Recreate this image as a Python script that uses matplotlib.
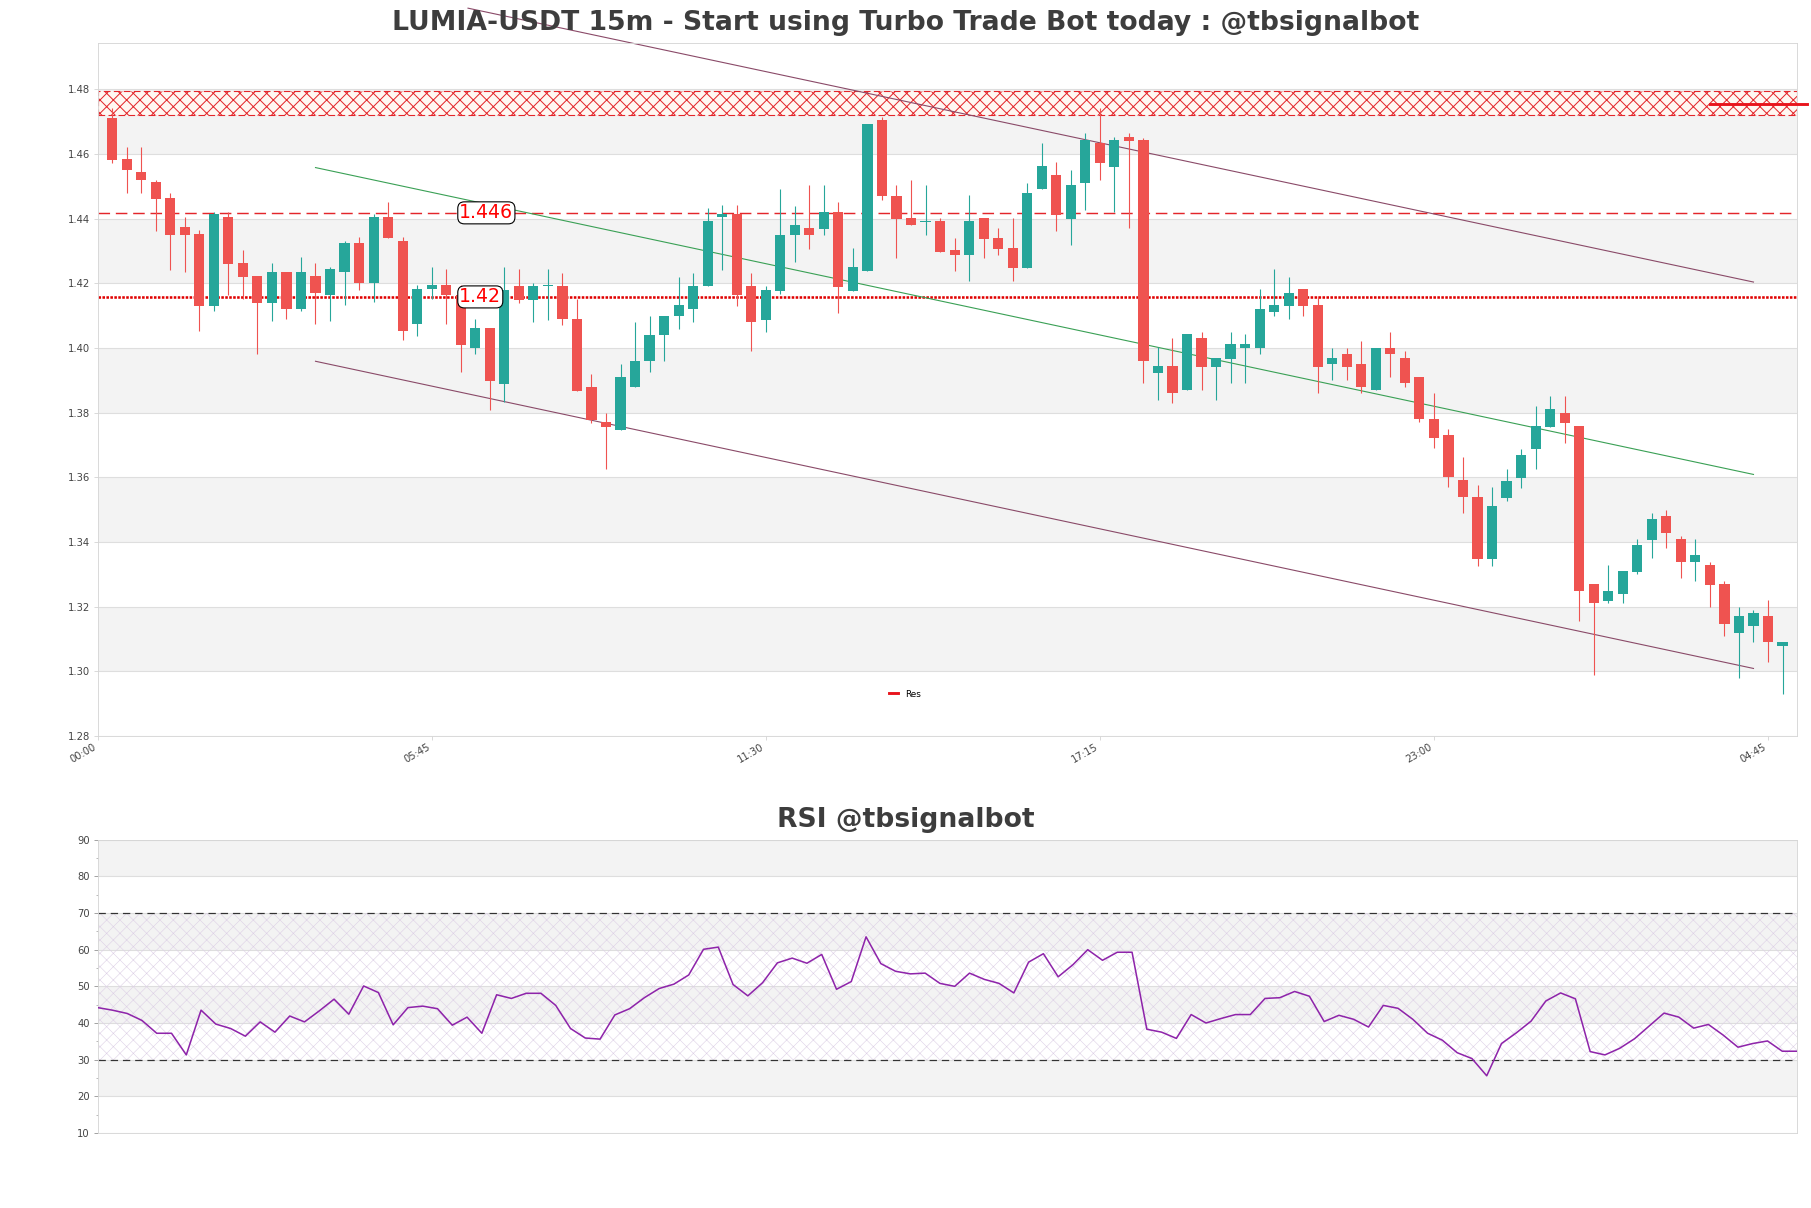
import matplotlib
matplotlib.use("Agg")
import matplotlib.pyplot as plt
import numpy as np

# ---------------- data ----------------
opens = [1.4712, 1.4583, 1.4543, 1.4512, 1.4463, 1.4373, 1.4352, 1.4131, 1.4404, 1.4263,
         1.4223, 1.4140, 1.4235, 1.4122, 1.4223, 1.4163, 1.4234, 1.4324, 1.4202, 1.4404,
         1.4332, 1.4073, 1.4181, 1.4194, 1.4165, 1.4000, 1.4063, 1.3889, 1.4193, 1.4150,
         1.4192, 1.4193, 1.4090, 1.3879, 1.3770, 1.3747, 1.3879, 1.3960, 1.4040, 1.4099,
         1.4120, 1.4193, 1.4404, 1.4415, 1.4193, 1.4088, 1.4177, 1.4348, 1.4371, 1.4369,
         1.4421, 1.4177, 1.4239, 1.4704, 1.4470, 1.4402, 1.4389, 1.4392, 1.4302, 1.4289,
         1.4402, 1.4340, 1.4310, 1.4248, 1.4491, 1.4534, 1.4400, 1.4509, 1.4633, 1.4559,
         1.4653, 1.4642, 1.3922, 1.3943, 1.3869, 1.4031, 1.3942, 1.3967, 1.4000, 1.4000,
         1.4112, 1.4130, 1.4181, 1.4132, 1.3952, 1.3983, 1.3952, 1.3869, 1.4000, 1.3970,
         1.3911, 1.3782, 1.3732, 1.3591, 1.3538, 1.3348, 1.3537, 1.3598, 1.3687, 1.3756,
         1.3798, 1.3758, 1.3270, 1.3219, 1.3238, 1.3308, 1.3407, 1.3481, 1.3409, 1.3339,
         1.3329, 1.3270, 1.3118, 1.3139, 1.3171, 1.3078]
highs = [1.4742, 1.4622, 1.4622, 1.4521, 1.4480, 1.4404, 1.4365, 1.4422, 1.4422, 1.4302,
         1.4223, 1.4263, 1.4235, 1.4283, 1.4263, 1.4252, 1.4332, 1.4343, 1.4413, 1.4452,
         1.4343, 1.4194, 1.4252, 1.4244, 1.4195, 1.4090, 1.4063, 1.4252, 1.4244, 1.4202,
         1.4244, 1.4233, 1.4152, 1.3920, 1.3799, 1.3951, 1.4081, 1.4100, 1.4100, 1.4221,
         1.4233, 1.4433, 1.4441, 1.4441, 1.4233, 1.4193, 1.4493, 1.4440, 1.4503, 1.4503,
         1.4452, 1.4309, 1.4692, 1.4714, 1.4503, 1.4521, 1.4503, 1.4402, 1.4340, 1.4472,
         1.4402, 1.4371, 1.4402, 1.4511, 1.4633, 1.4574, 1.4552, 1.4664, 1.4742, 1.4653,
         1.4664, 1.4651, 1.4004, 1.4031, 1.4042, 1.4050, 1.3969, 1.4050, 1.4042, 1.4181,
         1.4243, 1.4220, 1.4181, 1.4160, 1.4000, 1.4000, 1.4022, 1.4000, 1.4050, 1.3991,
         1.3911, 1.3861, 1.3751, 1.3663, 1.3577, 1.3569, 1.3627, 1.3689, 1.3821, 1.3851,
         1.3851, 1.3758, 1.3270, 1.3329, 1.3311, 1.3409, 1.3489, 1.3499, 1.3419, 1.3409,
         1.3339, 1.3278, 1.3198, 1.3190, 1.3221, 1.3090]
lows = [1.4572, 1.4479, 1.4479, 1.4362, 1.4242, 1.4234, 1.4052, 1.4114, 1.4165, 1.4153,
        1.3983, 1.4083, 1.4091, 1.4114, 1.4073, 1.4083, 1.4132, 1.4180, 1.4142, 1.4340,
        1.4025, 1.4037, 1.4153, 1.4073, 1.3927, 1.3980, 1.3809, 1.3832, 1.4140, 1.4080,
        1.4088, 1.4070, 1.3868, 1.3767, 1.3625, 1.3747, 1.3879, 1.3927, 1.3960, 1.4060,
        1.4080, 1.4193, 1.4241, 1.4130, 1.3991, 1.4050, 1.4167, 1.4267, 1.4307, 1.4348,
        1.4108, 1.4177, 1.4239, 1.4459, 1.4279, 1.4379, 1.4348, 1.4298, 1.4239, 1.4208,
        1.4279, 1.4289, 1.4208, 1.4248, 1.4491, 1.4361, 1.4319, 1.4428, 1.4519, 1.4421,
        1.4371, 1.3892, 1.3840, 1.3830, 1.3869, 1.3869, 1.3840, 1.3892, 1.3892, 1.3983,
        1.4100, 1.4089, 1.4100, 1.3861, 1.3900, 1.3900, 1.3861, 1.3869, 1.3911, 1.3880,
        1.3771, 1.3691, 1.3570, 1.3489, 1.3327, 1.3327, 1.3528, 1.3568, 1.3627, 1.3756,
        1.3707, 1.3157, 1.2988, 1.3211, 1.3211, 1.3301, 1.3350, 1.3380, 1.3288, 1.3279,
        1.3198, 1.3109, 1.2979, 1.3090, 1.3029, 1.2931]
closes = [1.4580, 1.4550, 1.4519, 1.4461, 1.4350, 1.4350, 1.4131, 1.4413, 1.4260, 1.4220,
          1.4140, 1.4235, 1.4122, 1.4235, 1.4171, 1.4244, 1.4324, 1.4202, 1.4404, 1.4340,
          1.4052, 1.4183, 1.4194, 1.4163, 1.4008, 1.4063, 1.3899, 1.4179, 1.4150, 1.4193,
          1.4194, 1.4089, 1.3868, 1.3777, 1.3756, 1.3910, 1.3960, 1.4041, 1.4100, 1.4132,
          1.4193, 1.4392, 1.4415, 1.4164, 1.4080, 1.4179, 1.4350, 1.4381, 1.4348, 1.4421,
          1.4190, 1.4250, 1.4692, 1.4469, 1.4400, 1.4379, 1.4391, 1.4298, 1.4289, 1.4392,
          1.4338, 1.4307, 1.4248, 1.4480, 1.4563, 1.4410, 1.4503, 1.4642, 1.4571, 1.4642,
          1.4640, 1.3960, 1.3943, 1.3861, 1.4042, 1.3942, 1.3969, 1.4011, 1.4011, 1.4122,
          1.4133, 1.4171, 1.4130, 1.3942, 1.3969, 1.3942, 1.3880, 1.4000, 1.3981, 1.3892,
          1.3782, 1.3722, 1.3600, 1.3539, 1.3348, 1.3511, 1.3588, 1.3668, 1.3758, 1.3810,
          1.3768, 1.3248, 1.3211, 1.3248, 1.3311, 1.3391, 1.3471, 1.3428, 1.3339, 1.3360,
          1.3267, 1.3147, 1.3171, 1.3180, 1.3090, 1.3090]

rsi = [44.2, 43.5, 42.6, 40.7, 37.2, 37.2, 31.3, 43.5, 39.7, 38.5,
       36.4, 40.3, 37.5, 41.9, 40.3, 43.3, 46.5, 42.4, 50.1, 48.3,
       39.5, 44.2, 44.6, 43.9, 39.4, 41.6, 37.2, 47.7, 46.7, 48.1,
       48.1, 44.8, 38.5, 35.9, 35.6, 42.2, 43.9, 46.9, 49.4, 50.6,
       53.1, 60.1, 60.7, 50.5, 47.4, 51.0, 56.4, 57.7, 56.3, 58.7,
       49.2, 51.3, 63.5, 56.2, 54.1, 53.4, 53.6, 50.8, 50.0, 53.6,
       51.9, 50.8, 48.2, 56.6, 58.9, 52.6, 55.9, 60.0, 57.1, 59.3,
       59.3, 38.3, 37.5, 35.8, 42.3, 40.0, 41.2, 42.3, 42.3, 46.7,
       46.9, 48.6, 47.3, 40.4, 42.1, 41.0, 38.9, 44.8, 44.0, 41.0,
       37.2, 35.3, 31.9, 30.3, 25.6, 34.4, 37.3, 40.5, 46.0, 48.2,
       46.6, 32.2, 31.3, 33.1, 35.7, 39.2, 42.7, 41.6, 38.6, 39.6,
       36.7, 33.4, 34.4, 35.1, 32.3, 32.3]

tick_pos = [-1, 22, 45, 68, 91, 114]
tick_labels = ["00:00", "05:45", "11:30", "17:15", "23:00", "04:45"]

upper_x = [24.5, 113]
channel_upper = [1.5051, 1.4204]
channel_x = [14, 113]
channel_mid = [1.4558, 1.3609]
channel_lower = [1.3959, 1.3009]

zone_low, zone_high = 1.4721, 1.4795
level_1 = 1.4418
level_1_text = "1.446"
level_2 = 1.4158
level_2_text = "1.42"
label_x = 23.9
res_x = [110, 116.7]
res_y = [1.4754, 1.4754]

title_main = "LUMIA-USDT 15m - Start using Turbo Trade Bot today : @tbsignalbot"
title_rsi = "RSI @tbsignalbot"

# ---------------- figure ----------------
DPI = 80
fig = plt.figure(figsize=(1811 / DPI, 1208 / DPI), dpi=DPI)
fig.patch.set_facecolor("white")
ax = fig.add_axes([0.0539, 0.3907, 0.9384, 0.5739])
rax = fig.add_axes([0.0539, 0.0621, 0.9384, 0.2428])

GREEN = "#26a69a"
RED = "#ef5350"
BAND = "#f3f3f3"
GRID = "#dedede"
SPINE = "#d6d6d6"
TXT = "#444444"

n = len(opens)
x = np.arange(n)
o = np.array(opens); h = np.array(highs); l = np.array(lows); c = np.array(closes)
up = c >= o
cols = np.where(up, GREEN, RED)

# price panel background bands and grid
yt = np.round(np.arange(1.28, 1.4801, 0.02), 2)
for i in range(len(yt) - 1):
    if i % 2 == 1:
        ax.axhspan(yt[i], yt[i + 1], color=BAND, zorder=0, lw=0)
for v in yt:
    ax.axhline(v, color=GRID, lw=1, zorder=0.5)

# resistance zone
plt.rcParams["hatch.linewidth"] = 0.9
ax.axhspan(zone_low, zone_high, facecolor="#fff7f2", edgecolor="#e3262b", hatch="xx",
           linestyle=(0, (6, 3)), lw=1.0, zorder=1)

# levels
ax.axhline(level_1, color="#e3262b", lw=1.3, ls=(0, (8, 4)), zorder=1.5)
ax.axhline(level_2, color="#e00000", lw=2.3, ls=(0, (1, 0.55)), zorder=1.5)

# channel
ax.plot(upper_x, channel_upper, color="#8a4a68", lw=1.0, zorder=2, clip_on=False)
ax.plot(channel_x, channel_mid, color="#3aa055", lw=1.0, zorder=2)
ax.plot(channel_x, channel_lower, color="#8a4a68", lw=1.0, zorder=2)

# candles
ax.vlines(x, l, h, colors=cols, lw=1.0, zorder=3)
body_bottom = np.minimum(o, c)
body_h = np.maximum(np.abs(c - o), 0.0003)
ax.bar(x, body_h, width=0.7, bottom=body_bottom, color=cols, lw=0, zorder=3.5)

# resistance line
ax.plot(res_x, res_y, color="#e8141c", lw=2.6, zorder=4, clip_on=False, label="Res")

# level labels
for yv, txt in [(level_1, level_1_text), (level_2, level_2_text)]:
    ax.text(label_x, yv, txt, color="#ff0000", fontsize=17, ha="left", va="center",
            zorder=6, bbox=dict(boxstyle="round,pad=0.08,rounding_size=0.35",
                                fc="white", ec="black", lw=1.0))

ax.set_xlim(-1, n)
ax.set_ylim(1.28, 1.4944)
ax.set_yticks(yt)
ax.set_yticklabels([f"{v:.2f}" for v in yt])
ax.set_xticks(tick_pos)
ax.set_xticklabels(tick_labels, rotation=30, ha="right")
ax.tick_params(axis="both", labelsize=9, colors=TXT, length=3.5, color=SPINE)
ax.tick_params(axis="x", pad=2)
for s in ax.spines.values():
    s.set_color(SPINE)
ax.legend(loc="center", bbox_to_anchor=(0.475, 0.0606), frameon=False, fontsize=8,
          handlelength=1.0, handletextpad=0.8)

# RSI panel
rt = np.arange(10, 91, 10)
for i in range(len(rt) - 1):
    if i % 2 == 1:
        rax.axhspan(rt[i], rt[i + 1], color=BAND, zorder=0, lw=0)
for v in rt:
    rax.axhline(v, color=GRID, lw=1, zorder=0.5)
plt.rcParams["hatch.linewidth"] = 0.5
rax.axhspan(30, 70, facecolor="none", edgecolor="#ddd0e6", hatch="xx", lw=0, zorder=0.8)
rax.axhline(70, color="#333333", lw=1.1, ls=(0, (6, 4)), zorder=2)
rax.axhline(30, color="#333333", lw=1.1, ls=(0, (6, 4)), zorder=2)
rax.plot(np.arange(len(rsi)), rsi, color="#8e24aa", lw=1.4, zorder=3)
rax.set_xlim(0, len(rsi) - 1)
rax.set_ylim(10, 90)
rax.set_yticks(rt)
rax.set_yticks(np.arange(15, 90, 10), minor=True)
rax.set_xticks([])
rax.tick_params(axis="y", which="both", labelsize=9, colors=TXT, color="#999999")
rax.tick_params(axis="y", which="minor", length=2)
for s in rax.spines.values():
    s.set_color(SPINE)

fig.text(0.5, 0.981, title_main, ha="center", va="center", fontsize=24,
         fontweight="bold", color="#3d3d3d")
fig.text(0.5, 0.321, title_rsi, ha="center", va="center", fontsize=24,
         fontweight="bold", color="#3d3d3d")

fig.savefig("out.png", dpi=DPI)
